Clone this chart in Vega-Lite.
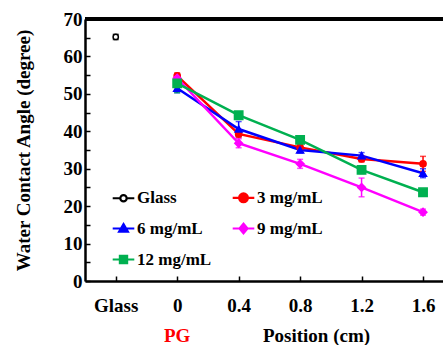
{
  "$schema": "https://vega.github.io/schema/vega-lite/v6.json",
  "width": 358,
  "height": 262,
  "autosize": "none",
  "padding": {"left": 85, "top": 19, "right": 0, "bottom": 64},
  "background": "white",
  "config": {
    "view": {"stroke": null},
    "font": "Liberation Serif",
    "axis": {
      "labelFont": "Liberation Serif", "labelFontWeight": "bold", "labelFontSize": 19, "labelColor": "black",
      "titleFont": "Liberation Serif", "titleFontWeight": "bold", "titleFontSize": 19, "titleColor": "black",
      "domainColor": "black", "domainWidth": 2.5, "tickColor": "black", "tickWidth": 1.5, "grid": false
    }
  },
  "data": {
    "values": [
      {"series": "Glass", "position": -0.4, "angle": 65.2, "err": 0.7},
      {"series": "3 mg/mL", "position": 0, "angle": 54.8, "err": 0.8},
      {"series": "3 mg/mL", "position": 0.4, "angle": 39.3, "err": 1.0},
      {"series": "3 mg/mL", "position": 0.8, "angle": 35.7, "err": 0.8},
      {"series": "3 mg/mL", "position": 1.2, "angle": 32.6, "err": 0.8},
      {"series": "3 mg/mL", "position": 1.6, "angle": 31.3, "err": 2.0},
      {"series": "6 mg/mL", "position": 0, "angle": 51.5, "err": 1.2},
      {"series": "6 mg/mL", "position": 0.4, "angle": 40.6, "err": 2.0},
      {"series": "6 mg/mL", "position": 0.8, "angle": 35.0, "err": 0.8},
      {"series": "6 mg/mL", "position": 1.2, "angle": 33.5, "err": 0.8},
      {"series": "6 mg/mL", "position": 1.6, "angle": 28.8, "err": 1.2},
      {"series": "9 mg/mL", "position": 0, "angle": 54.2, "err": 0.8},
      {"series": "9 mg/mL", "position": 0.4, "angle": 36.8, "err": 1.2},
      {"series": "9 mg/mL", "position": 0.8, "angle": 31.3, "err": 1.2},
      {"series": "9 mg/mL", "position": 1.2, "angle": 25.0, "err": 2.5},
      {"series": "9 mg/mL", "position": 1.6, "angle": 18.4, "err": 0.8},
      {"series": "12 mg/mL", "position": 0, "angle": 52.8, "err": 2.5},
      {"series": "12 mg/mL", "position": 0.4, "angle": 44.3, "err": 0.8},
      {"series": "12 mg/mL", "position": 0.8, "angle": 37.7, "err": 0.6},
      {"series": "12 mg/mL", "position": 1.2, "angle": 29.7, "err": 1.0},
      {"series": "12 mg/mL", "position": 1.6, "angle": 23.7, "err": 0.5}
    ]
  },
  "encoding": {
    "x": {
      "field": "position", "type": "quantitative",
      "scale": {"domain": [-0.6, 1.73], "nice": false, "zero": false},
      "axis": {
        "values": [-0.4, 0, 0.4, 0.8, 1.2, 1.6],
        "labelExpr": "datum.value < -0.2 ? 'Glass' : format(datum.value, '~g')",
        "tickSize": -5, "labelPadding": 20,
        "title": "Position (cm)", "titleX": 231, "titleY": 54, "titleBaseline": "middle", "titleAlign": "center"
      }
    },
    "y": {
      "field": "angle", "type": "quantitative",
      "scale": {"domain": [0, 70], "nice": false},
      "axis": {
        "values": [0, 5, 10, 15, 20, 25, 30, 35, 40, 45, 50, 55, 60, 65, 70],
        "labelExpr": "datum.value % 10 === 0 ? datum.label : ''",
        "tickSize": -5, "labelPadding": 8,
        "encode": {"labels": {"update": {"x": {"value": -17}, "align": {"value": "right"}}}},
        "title": "Water Contact Angle (degree)", "titleX": -62, "titleY": 131, "titleBaseline": "middle", "titleAlign": "center"
      }
    }
  },
  "layer": [
    {
      "transform": [{"filter": "datum.series !== 'Glass'"}],
      "mark": {"type": "line", "strokeWidth": 2.5},
      "encoding": {
        "color": {"field": "series", "type": "nominal",
          "scale": {"domain": ["Glass", "3 mg/mL", "6 mg/mL", "9 mg/mL", "12 mg/mL"], "range": ["#000000", "#FF0000", "#0000FF", "#FF00FF", "#00B050"]},
          "legend": null}
      }
    },
    {
      "mark": {"type": "errorbar", "ticks": {"size": 6}, "thickness": 1.5},
      "encoding": {
        "yError": {"field": "err"},
        "color": {"field": "series", "type": "nominal",
          "scale": {"domain": ["Glass", "3 mg/mL", "6 mg/mL", "9 mg/mL", "12 mg/mL"], "range": ["#000000", "#FF0000", "#0000FF", "#FF00FF", "#00B050"]},
          "legend": null}
      }
    },
    {
      "mark": {"type": "point", "strokeWidth": 1.5, "opacity": 1},
      "encoding": {
        "stroke": {"field": "series", "type": "nominal",
          "scale": {"domain": ["Glass", "3 mg/mL", "6 mg/mL", "9 mg/mL", "12 mg/mL"], "range": ["#000000", "#FF0000", "#0000FF", "#FF00FF", "#00B050"]},
          "legend": null},
        "fill": {"field": "series", "type": "nominal",
          "scale": {"domain": ["Glass", "3 mg/mL", "6 mg/mL", "9 mg/mL", "12 mg/mL"], "range": ["#FFFFFF", "#FF0000", "#0000FF", "#FF00FF", "#00B050"]},
          "legend": null},
        "shape": {"field": "series", "type": "nominal",
          "scale": {"domain": ["Glass", "3 mg/mL", "6 mg/mL", "9 mg/mL", "12 mg/mL"], "range": ["circle", "circle", "triangle-up", "diamond", "square"]},
          "legend": null},
        "size": {"field": "series", "type": "nominal",
          "scale": {"domain": ["Glass", "3 mg/mL", "6 mg/mL", "9 mg/mL", "12 mg/mL"], "range": [28, 70, 50, 60, 60]},
          "legend": null}
      }
    },
    {
      "mark": {"type": "rule", "strokeWidth": 2.5, "color": "black"},
      "encoding": {"y": {"datum": 70}, "x": null}
    },
    {
      "data": {"values": [{"position": 0, "angle": -14.6, "label": "PG"}]},
      "mark": {"type": "text", "color": "#FF0000", "font": "Liberation Serif", "fontWeight": "bold", "fontSize": 19, "baseline": "middle", "clip": false},
      "encoding": {"text": {"field": "label"}}
    },
    {
      "transform": [{"filter": "false"}],
      "mark": {"type": "point", "opacity": 1},
      "encoding": {
        "stroke": {"field": "series", "type": "nominal",
          "scale": {"domain": ["Glass", "3 mg/mL", "6 mg/mL", "9 mg/mL", "12 mg/mL"], "range": ["#000000", "#FF0000", "#0000FF", "#FF00FF", "#00B050"]},
          "legend": {"orient": "none", "legendX": 30, "legendY": 170, "columns": 2, "direction": "horizontal", "title": null,
            "labelFont": "Liberation Serif", "labelFontWeight": "bold", "labelFontSize": 17, "labelColor": "black",
            "symbolSize": 64, "symbolStrokeWidth": 2.2, "symbolOpacity": 1, "labelOffset": 5, "rowPadding": 12, "columnPadding": 16, "padding": 0}},
        "fill": {"field": "series", "type": "nominal",
          "scale": {"domain": ["Glass", "3 mg/mL", "6 mg/mL", "9 mg/mL", "12 mg/mL"], "range": ["#FFFFFF", "#FF0000", "#0000FF", "#FF00FF", "#00B050"]},
          "legend": {"orient": "none", "legendX": 30, "legendY": 170, "columns": 2, "direction": "horizontal", "title": null,
            "labelFont": "Liberation Serif", "labelFontWeight": "bold", "labelFontSize": 17, "labelColor": "black",
            "symbolSize": 64, "symbolStrokeWidth": 2.2, "symbolOpacity": 1, "labelOffset": 5, "rowPadding": 12, "columnPadding": 16, "padding": 0}},
        "shape": {"field": "series", "type": "nominal",
          "scale": {"domain": ["Glass", "3 mg/mL", "6 mg/mL", "9 mg/mL", "12 mg/mL"],
            "range": [
              "M-2.7,0H-0.8M0.8,0H2.7M-0.8,0A0.8,0.8,0,1,0,0.8,0A0.8,0.8,0,1,0,-0.8,0Z",
              "M-2.7,0H2.7M-1.1,0A1.1,1.1,0,1,0,1.1,0A1.1,1.1,0,1,0,-1.1,0Z",
              "M-2.7,0H2.7M0,-1.1L1.1,0.8L-1.1,0.8Z",
              "M-2.7,0H2.7M0,-1.2L1,0L0,1.2L-1,0Z",
              "M-2.7,0H2.7M-0.9,-0.9H0.9V0.9H-0.9Z"
            ]},
          "legend": {"orient": "none", "legendX": 30, "legendY": 170, "columns": 2, "direction": "horizontal", "title": null,
            "labelFont": "Liberation Serif", "labelFontWeight": "bold", "labelFontSize": 17, "labelColor": "black",
            "symbolSize": 64, "symbolStrokeWidth": 2.2, "symbolOpacity": 1, "labelOffset": 5, "rowPadding": 12, "columnPadding": 16, "padding": 0}}
      }
    }
  ],
  "resolve": {"scale": {"shape": "independent", "fill": "independent", "stroke": "independent"}}
}
